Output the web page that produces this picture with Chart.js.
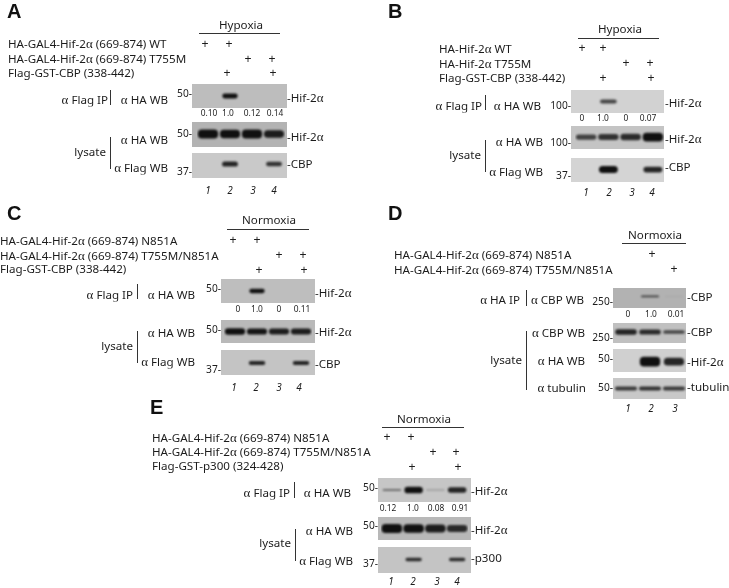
<!DOCTYPE html>
<html>
<head>
<meta charset="utf-8">
<script src="https://cdn.jsdelivr.net/npm/chart.js@4"></script>
<style>
  html, body { margin: 0; background: #fff; }
  #fig { position: relative; width: 729px; height: 588px; overflow: hidden; }
  #fig canvas { position: absolute; }
  .t { position: absolute; font: 11.6px/1 "Noto Sans", sans-serif; color: #1c1c1c; white-space: nowrap; transform: translateY(-50%); will-change: transform; filter: blur(0.25px); }
  .t.c { transform: translate(-50%, -50%); }
  .t.r { transform: translate(-100%, -50%); }
  .t b { font: 13px/1 "Liberation Serif", serif; }
  .q { font-size: 8.4px; }
  .n { font-style: italic; font-size: 10px; }
  .t.p { font: 12px/1 "Liberation Sans", sans-serif; }
  .m { font-size: 10.2px; }
  .t.h { font: bold 20px/1 "Liberation Sans", sans-serif; color: #111; }
  .line { position: absolute; background: #333; }
</style>
</head>
<body>
<div id="fig"></div>
<script>
// band intensity per lane
const laneLabels = ['1', '2', '3', '4'];
const laneLabelsD = ['1', '2', '3'];

const aFlagIp = [0.02, 1, 0, 0];
const aHaLysate = [1, 0.95, 1, 0.85];
const aFlagLysate = [0, 0.8, 0, 0.7];
const aQuant = ['0.10', '1.0', '0.12', '0.14'];

const bFlagIp = [0, 0.6, 0, 0.02];
const bHaLysate = [0.6, 0.7, 0.75, 1];
const bFlagLysate = [0, 1, 0, 0.8];
const bQuant = ['0', '1.0', '0', '0.07'];

const cFlagIp = [0, 1, 0, 0.02];
const cHaLysate = [0.95, 0.9, 0.85, 0.85];
const cFlagLysate = [0, 0.8, 0, 0.8];
const cQuant = ['0', '1.0', '0', '0.11'];

const dHaIp = [0, 0.6, 0.02];
const dCbpLysate = [0.8, 0.75, 0.55];
const dHaLysate = [0, 1, 0.8];
const dTubulin = [0.65, 0.7, 0.65];
const dQuant = ['0', '1.0', '0.01'];

const eFlagIp = [0.3, 1, 0.15, 0.8];
const eHaLysate = [1, 0.95, 0.85, 0.75];
const eFlagLysate = [0, 0.75, 0, 0.75];
const eQuant = ['0.12', '1.0', '0.08', '0.91'];

const fig = document.getElementById('fig');

// text helper, α goes in a serif face like the original
function t(x, y, str, cls = '') {
    const el = document.createElement('div');
    el.className = 't ' + cls;
    el.style.left = x + 'px';
    el.style.top = y + 'px';
    el.innerHTML = str.replace(/α/g, '<b>α</b>');
    fig.appendChild(el);
}

function rule(x, y, w, h) {
    const el = document.createElement('div');
    el.className = 'line';
    el.style.cssText = `left:${x}px;top:${y}px;width:${w}px;height:${h}px`;
    fig.appendChild(el);
}

// soft edges on the bands only, the strip itself stays crisp
const softBands = {
    id: 'softBands',
    beforeDatasetsDraw(chart) {
        chart.ctx.save();
        chart.ctx.filter = 'blur(1.1px)';
    },
    afterDatasetsDraw(chart) {
        chart.ctx.restore();
    },
};

// one blot strip is a small floating bar chart, one bar per lane
function blot(x, y, w, h, labels, values, o) {
    const canvas = document.createElement('canvas');
    canvas.width = w;
    canvas.height = h;
    canvas.style.left = x + 'px';
    canvas.style.top = y + 'px';
    canvas.style.background = o.bg;
    fig.appendChild(canvas);
    return new Chart(canvas, {
        type: 'bar',
        data: {
            labels,
            datasets: [{
                data: values.map(v => [o.mid - v * o.thick / 2, o.mid + v * o.thick / 2]),
                backgroundColor: values.map(v => `rgba(16,16,16,${Math.min(1, 0.25 + 0.8 * v)})`),
                borderRadius: 4,
                borderSkipped: false,
                categoryPercentage: 1,
                barPercentage: o.bar,
            }],
        },
        options: {
            responsive: false,
            animation: false,
            layout: { padding: { left: o.padL, right: o.padR, top: 0, bottom: 0 } },
            plugins: { legend: { display: false }, tooltip: { enabled: false } },
            scales: {
                x: { display: false },
                y: { display: false, min: 0, max: 1, reverse: true },
            },
        },
        plugins: [softBands],
    });
}

function row(xs, y, labels, cls) {
    labels.forEach((s, i) => t(xs[i], y, s, 'c ' + cls));
}

// panel A
t(7, 11, 'A', 'h');
t(241, 25, 'Hypoxia', 'c');
rule(199, 33, 81, 1);
t(8, 43, 'HA-GAL4-Hif-2α (669-874) WT');
t(8, 58, 'HA-GAL4-Hif-2α (669-874) T755M');
t(8, 73, 'Flag-GST-CBP (338-442)');
[205, 229].forEach(x => t(x, 44, '+', 'c p'));
[248, 272].forEach(x => t(x, 59, '+', 'c p'));
[227, 273].forEach(x => t(x, 73, '+', 'c p'));
blot(192, 84, 95, 24, laneLabels, aFlagIp, { bg: '#bdbdbd', mid: 0.5, thick: 0.2, bar: 0.7, padL: 5, padR: 2 });
blot(192, 122, 95, 25, laneLabels, aHaLysate, { bg: '#b3b3b3', mid: 0.48, thick: 0.36, bar: 0.92, padL: 5, padR: 2 });
blot(192, 153, 95, 25, laneLabels, aFlagLysate, { bg: '#c9c9c9', mid: 0.44, thick: 0.26, bar: 0.72, padL: 5, padR: 2 });
t(108, 99, 'α Flag IP', 'r');
rule(110, 90, 1, 15);
t(168, 99, 'α HA WB', 'r');
t(192, 93, '50-', 'r m');
row([209, 228, 252, 275], 113, aQuant, 'q');
t(287, 97, '-Hif-2α');
t(168, 139, 'α HA WB', 'r');
t(192, 133, '50-', 'r m');
t(287, 136, '-Hif-2α');
t(106, 152, 'lysate', 'r');
rule(110, 137, 1, 32);
t(168, 167, 'α Flag WB', 'r');
t(192, 171, '37-', 'r m');
t(287, 164, '-CBP');
row([208, 230, 253, 274], 190, laneLabels, 'n');

// panel B
t(388, 11, 'B', 'h');
t(620, 29, 'Hypoxia', 'c');
rule(578, 38, 81, 1);
t(439, 48, 'HA-Hif-2α WT');
t(439, 63, 'HA-Hif-2α T755M');
t(439, 78, 'Flag-GST-CBP (338-442)');
[582, 603].forEach(x => t(x, 48, '+', 'c p'));
[626, 650].forEach(x => t(x, 63, '+', 'c p'));
[603, 651].forEach(x => t(x, 78, '+', 'c p'));
blot(571, 90, 93, 23, laneLabels, bFlagIp, { bg: '#d2d2d2', mid: 0.5, thick: 0.3, bar: 0.75, padL: 4, padR: 0 });
blot(571, 126, 93, 23, laneLabels, bHaLysate, { bg: '#c4c4c4', mid: 0.48, thick: 0.38, bar: 0.92, padL: 4, padR: 0 });
blot(571, 158, 93, 24, laneLabels, bFlagLysate, { bg: '#d4d4d4', mid: 0.48, thick: 0.3, bar: 0.85, padL: 4, padR: 0 });
t(482, 105, 'α Flag IP', 'r');
rule(485, 95, 1, 15);
t(541, 105, 'α HA WB', 'r');
t(571, 105, '100-', 'r m');
row([582, 603, 626, 648], 118, bQuant, 'q');
t(665, 102, '-Hif-2α');
t(543, 141, 'α HA WB', 'r');
t(571, 142, '100-', 'r m');
t(665, 138, '-Hif-2α');
t(481, 155, 'lysate', 'r');
rule(485, 140, 1, 32);
t(543, 171, 'α Flag WB', 'r');
t(571, 175, '37-', 'r m');
t(665, 167, '-CBP');
row([586, 609, 632, 652], 192, laneLabels, 'n');

// panel C
t(7, 213, 'C', 'h');
t(269, 220, 'Normoxia', 'c');
rule(227, 229, 82, 1);
t(0, 240, 'HA-GAL4-Hif-2α (669-874) N851A');
t(0, 255, 'HA-GAL4-Hif-2α (669-874) T755M/N851A');
t(0, 269, 'Flag-GST-CBP (338-442)');
[233, 257].forEach(x => t(x, 240, '+', 'c p'));
[279, 303].forEach(x => t(x, 255, '+', 'c p'));
[259, 304].forEach(x => t(x, 270, '+', 'c p'));
blot(221, 279, 94, 24, laneLabels, cFlagIp, { bg: '#bebebe', mid: 0.5, thick: 0.18, bar: 0.7, padL: 3, padR: 3 });
blot(221, 320, 94, 23, laneLabels, cHaLysate, { bg: '#b9b9b9', mid: 0.5, thick: 0.3, bar: 0.92, padL: 3, padR: 3 });
blot(221, 350, 94, 25, laneLabels, cFlagLysate, { bg: '#c4c4c4', mid: 0.52, thick: 0.2, bar: 0.75, padL: 3, padR: 3 });
t(133, 294, 'α Flag IP', 'r');
rule(137, 284, 1, 15);
t(195, 294, 'α HA WB', 'r');
t(221, 288, '50-', 'r m');
row([238, 257, 279, 302], 309, cQuant, 'q');
t(315, 292, '-Hif-2α');
t(195, 332, 'α HA WB', 'r');
t(221, 329, '50-', 'r m');
t(315, 331, '-Hif-2α');
t(133, 346, 'lysate', 'r');
rule(137, 331, 1, 32);
t(195, 361, 'α Flag WB', 'r');
t(221, 369, '37-', 'r m');
t(315, 364, '-CBP');
row([234, 256, 279, 299], 387, laneLabels, 'n');

// panel D, only three lanes
t(388, 213, 'D', 'h');
t(655, 235, 'Normoxia', 'c');
rule(622, 243, 64, 1);
t(394, 254, 'HA-GAL4-Hif-2α (669-874) N851A');
t(394, 269, 'HA-GAL4-Hif-2α (669-874) T755M/N851A');
t(652, 254, '+', 'c p');
t(674, 269, '+', 'c p');
blot(613, 288, 73, 20, laneLabelsD, dHaIp, { bg: '#b2b2b2', mid: 0.42, thick: 0.16, bar: 0.75, padL: 1, padR: 0 });
blot(613, 323, 73, 20, laneLabelsD, dCbpLysate, { bg: '#c0c0c0', mid: 0.45, thick: 0.34, bar: 0.9, padL: 1, padR: 0 });
blot(613, 349, 73, 23, laneLabelsD, dHaLysate, { bg: '#d0d0d0', mid: 0.55, thick: 0.42, bar: 0.85, padL: 1, padR: 0 });
blot(613, 378, 73, 21, laneLabelsD, dTubulin, { bg: '#c8c8c8', mid: 0.5, thick: 0.28, bar: 0.92, padL: 1, padR: 0 });
t(520, 299, 'α HA IP', 'r');
rule(526, 290, 1, 16);
t(584, 299, 'α CBP WB', 'r');
t(613, 301, '250-', 'r m');
row([628, 651, 676], 314, dQuant, 'q');
t(687, 297, '-CBP');
t(585, 332, 'α CBP WB', 'r');
t(613, 337, '250-', 'r m');
t(687, 332, '-CBP');
t(585, 360, 'α HA WB', 'r');
t(613, 358, '50-', 'r m');
t(687, 361, '-Hif-2α');
t(586, 387, 'α tubulin', 'r');
t(613, 387, '50-', 'r m');
t(687, 387, '-tubulin');
t(522, 360, 'lysate', 'r');
rule(526, 331, 1, 59);
row([628, 651, 675], 408, laneLabelsD, 'n');

// panel E
t(150, 407, 'E', 'h');
t(424, 419, 'Normoxia', 'c');
rule(382, 427, 82, 1);
t(152, 437, 'HA-GAL4-Hif-2α (669-874) N851A');
t(152, 451, 'HA-GAL4-Hif-2α (669-874) T755M/N851A');
t(152, 466, 'Flag-GST-p300 (324-428)');
[387, 411].forEach(x => t(x, 437, '+', 'c p'));
[433, 456].forEach(x => t(x, 452, '+', 'c p'));
[412, 458].forEach(x => t(x, 467, '+', 'c p'));
blot(378, 478, 93, 24, laneLabels, eFlagIp, { bg: '#c6c6c6', mid: 0.5, thick: 0.28, bar: 0.85, padL: 3, padR: 3 });
blot(378, 517, 93, 23, laneLabels, eHaLysate, { bg: '#b8b8b8', mid: 0.5, thick: 0.4, bar: 0.95, padL: 3, padR: 3 });
blot(378, 547, 93, 26, laneLabels, eFlagLysate, { bg: '#c4c4c4', mid: 0.48, thick: 0.18, bar: 0.75, padL: 3, padR: 3 });
t(290, 492, 'α Flag IP', 'r');
rule(294, 482, 1, 16);
t(351, 492, 'α HA WB', 'r');
t(378, 487, '50-', 'r m');
row([388, 413, 436, 460], 508, eQuant, 'q');
t(471, 490, '-Hif-2α');
t(353, 530, 'α HA WB', 'r');
t(378, 525, '50-', 'r m');
t(471, 529, '-Hif-2α');
t(291, 543, 'lysate', 'r');
rule(295, 529, 1, 32);
t(353, 560, 'α Flag WB', 'r');
t(378, 563, '37-', 'r m');
t(471, 558, '-p300');
row([391, 413, 437, 457], 581, laneLabels, 'n');
</script>
</body>
</html>
